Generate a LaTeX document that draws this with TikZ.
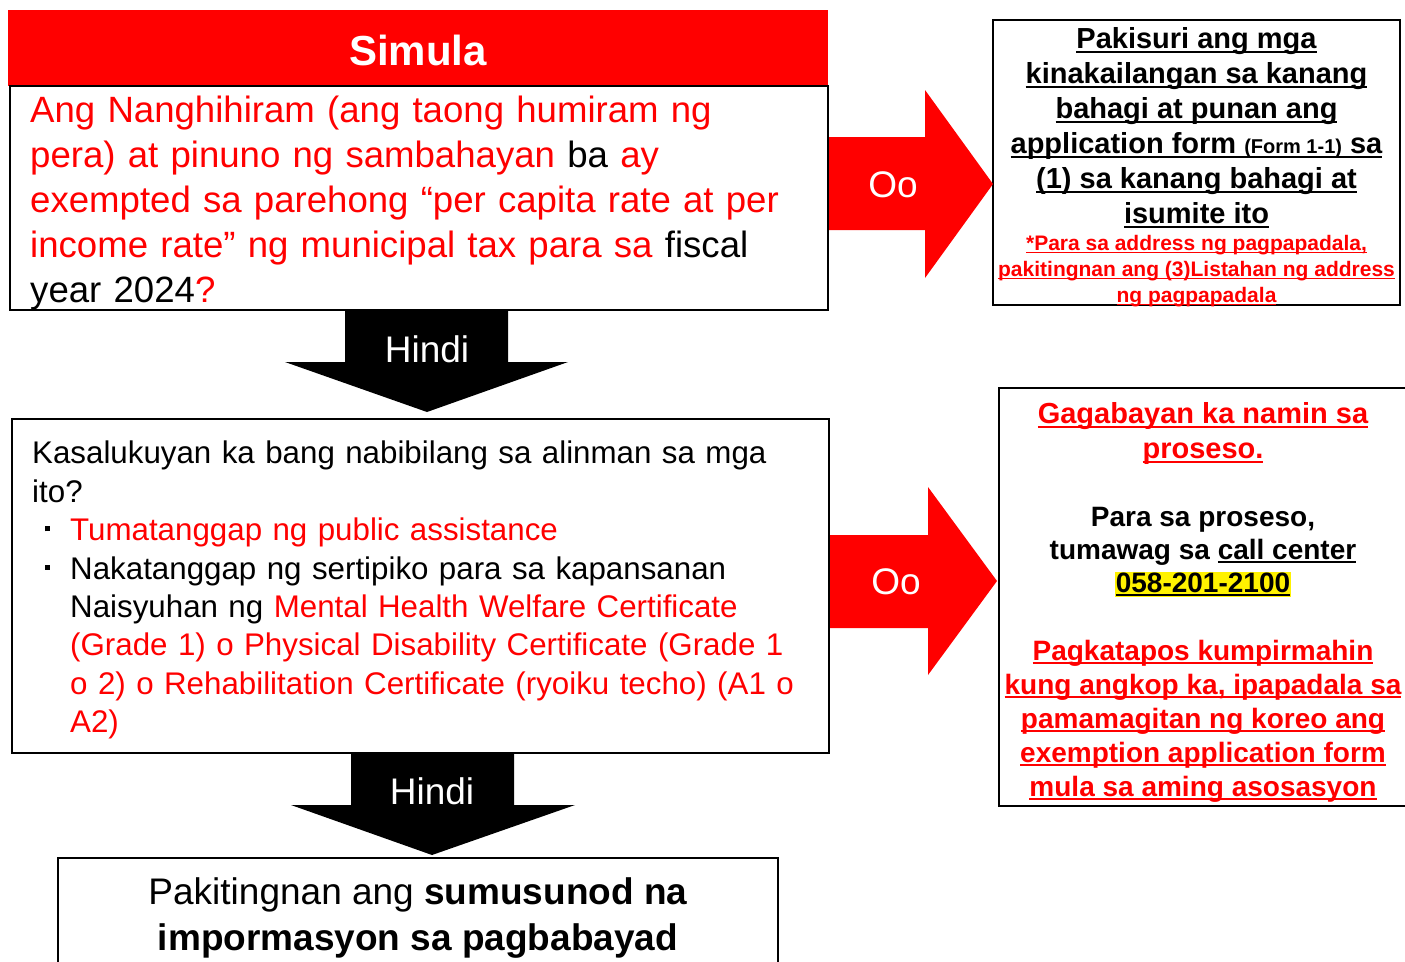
\documentclass[tikz,border=0pt]{standalone}
\usepackage{fontspec}
\setmainfont{Liberation Sans}

\newsavebox{\ulkahon}
\newcommand{\ulline}[1]{\sbox{\ulkahon}{#1}\rlap{\rule[-0.15em]{\wd\ulkahon}{0.07em}}\usebox{\ulkahon}}
\newcommand{\pula}[1]{\textcolor{red}{#1}}
\newcommand{\tuldok}{\makebox[38pt][l]{\hspace*{13pt}\rule[0.3em]{5pt}{5pt}}}
\setlength{\fboxsep}{1pt}

\begin{document}
\begin{tikzpicture}[x=1pt,y=-1pt,
  kahon/.style={draw=black, line width=2pt, fill=white},
  teksto/.style={inner sep=0pt, anchor=north west, align=left, text width=790pt},
  gitna/.style={inner sep=0pt, anchor=north, align=center},
  tatak/.style={text=white, font=\fontsize{37}{44}\selectfont}]

\useasboundingbox (0,0) rectangle (1405,961);
\clip (0,0) rectangle (1405,961);

% Mga kahon
\fill[red] (8,10) rectangle (828,86);
\draw[kahon] (10,86) rectangle (828,310);
\draw[kahon] (12,419) rectangle (829,753);
\draw[kahon] (58,858) rectangle (778,990);
\draw[kahon] (993,20) rectangle (1400,305);
\draw[kahon] (999,388) rectangle (1420,806);

% Mga palaso pababa (Hindi)
\fill[black] (345,311) -- (508,311) -- (508,362) -- (568,362) -- (427,412) -- (285,362) -- (345,362) -- cycle;
\fill[black] (351,754) -- (514,754) -- (514,805) -- (575,805) -- (432,855) -- (291,805) -- (351,805) -- cycle;
\node[tatak] (hindi1) at (427,349) {Hindi};
\node[tatak] (hindi2) at (432,791) {Hindi};

% Mga palaso pakanan (Oo)
\fill[red] (829,137) -- (925,137) -- (925,90) -- (993,184) -- (925,278) -- (925,230) -- (829,230) -- cycle;
\fill[red] (830,535) -- (928,535) -- (928,487) -- (997,581) -- (928,675) -- (928,628) -- (830,628) -- cycle;
\node[tatak] (oo1) at (893,185) {Oo};
\node[tatak] (oo2) at (896,582) {Oo};

% Simula
\node[text=white, font=\bfseries\fontsize{42}{50}\selectfont] (simula) at (418,50) {Simula};

% Unang tanong
\node[teksto, font=\fontsize{36.6}{45}\selectfont] (tanong1) at (30,96) {%
\pula{Ang Nanghihiram (ang taong humiram ng}\\
\pula{pera) at pinuno ng sambahayan} ba \pula{ay}\\
\pula{exempted sa parehong “per capita rate at per}\\
\pula{income rate” ng municipal tax para sa} fiscal\\
year 2024\pula{?}};

% Ikalawang tanong
\node[teksto, font=\fontsize{31.3}{38.4}\selectfont] (tanong2) at (32,441) {%
Kasalukuyan ka bang nabibilang sa alinman sa mga\\
ito?\\
\tuldok\pula{Tumatanggap ng public assistance}\\
\tuldok Nakatanggap ng sertipiko para sa kapansanan\\
\hspace*{38pt}Naisyuhan ng \pula{Mental Health Welfare Certificate}\\
\hspace*{38pt}\pula{(Grade 1) o Physical Disability Certificate (Grade 1}\\
\hspace*{38pt}\pula{o 2) o Rehabilitation Certificate (ryoiku techo) (A1 o}\\
\hspace*{38pt}\pula{A2)}};

% Pagbabayad
\node[gitna, font=\fontsize{37}{46}\selectfont] (bayad) at (418,877) {%
Pakitingnan ang \textbf{sumusunod na}\\
\textbf{impormasyon sa pagbabayad}};

% Application form
\node[gitna, font=\bfseries\fontsize{29}{35}\selectfont] (suriin) at (1196.5,27) {%
\ulline{Pakisuri ang mga}\\
\ulline{kinakailangan sa kanang}\\
\ulline{bahagi at punan ang}\\
\ulline{application form {\fontsize{20}{24}\selectfont(Form 1-1)} sa}\\
\ulline{(1) sa kanang bahagi at}\\
\ulline{isumite ito}\\[-8pt]
\pula{\fontsize{21}{26}\selectfont\ulline{*Para sa address ng pagpapadala,}}\\[-9pt]
\pula{\fontsize{21}{26}\selectfont\ulline{pakitingnan ang (3)Listahan ng address}}\\[-9pt]
\pula{\fontsize{21}{26}\selectfont\ulline{ng pagpapadala}}};

% Call center
\node[gitna, font=\bfseries\fontsize{28}{34}\selectfont] (tawag) at (1203,402) {%
\pula{\fontsize{29}{35}\selectfont\ulline{Gagabayan ka namin sa}}\\[1pt]
\pula{\fontsize{29}{35}\selectfont\ulline{proseso.}}\\
\mbox{}\\
Para sa proseso,\\[-1pt]
tumawag sa \ulline{call center}\\[-1pt]
\colorbox{yellow}{\ulline{058-201-2100}}\\
\mbox{}\\
\pula{\ulline{Pagkatapos kumpirmahin}}\\
\pula{\ulline{kung angkop ka, ipapadala sa}}\\
\pula{\ulline{pamamagitan ng koreo ang}}\\
\pula{\ulline{exemption application form}}\\
\pula{\ulline{mula sa aming asosasyon}}};
\end{tikzpicture}
\end{document}
